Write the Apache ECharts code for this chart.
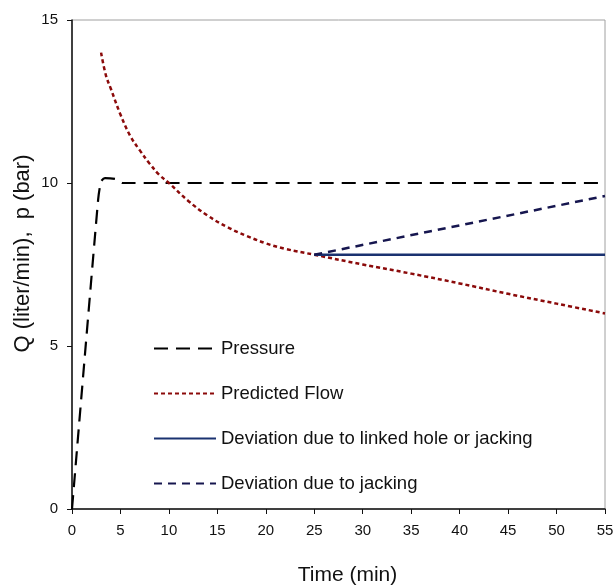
<!DOCTYPE html>
<html>
<head>
<meta charset="utf-8">
<script src="https://cdn.jsdelivr.net/npm/echarts@6/dist/echarts.min.js"></script>
<style>
html,body{margin:0;padding:0;background:#fff;}
#chart{width:614px;height:586px;}
</style>
</head>
<body>
<div id="chart"></div>
<script>
// Data
var pressureTime = [0, 2.7, 3.0, 3.4, 4.5, 5.2, 55];
var pressureValue = [0, 9.5, 10.05, 10.15, 10.12, 10.0, 10.0];

var flowTime = [3, 3.5, 4, 5, 6, 7, 8, 9, 10, 12, 14, 16, 18, 20, 22, 25, 30, 35, 40, 45, 50, 55];
var flowValue = [14.0, 13.3, 12.9, 12.1, 11.45, 11.0, 10.6, 10.25, 10.0, 9.45, 9.0, 8.65, 8.38, 8.15, 7.98, 7.8, 7.5, 7.22, 6.92, 6.6, 6.3, 6.0];

var linkedTime = [25, 55];
var linkedValue = [7.8, 7.8];

var jackingTime = [25, 55];
var jackingValue = [7.8, 9.6];

var seriesNames = ['Pressure', 'Predicted Flow', 'Deviation due to linked hole or jacking', 'Deviation due to jacking'];
var xTitle = 'Time (min)';
var yTitle = 'Q (liter/min),  p (bar)';

function pairs(xs, ys) { return xs.map(function (x, i) { return [x, ys[i]]; }); }

var font = 'Liberation Sans, Arial, sans-serif';
var chart = echarts.init(document.getElementById('chart'), null, { renderer: 'canvas' });
chart.setOption({
  animation: false,
  backgroundColor: '#fff',
  grid: { left: 72, right: 9, top: 20, bottom: 77, show: true, borderColor: '#a0a0a0', borderWidth: 1,
          outerBoundsMode: 'none', containLabel: false },
  legend: {
    orient: 'vertical',
    left: 153, top: 339, padding: 0,
    itemWidth: 62, itemHeight: 14, itemGap: 26,
    itemStyle: { opacity: 0 },
    textStyle: { fontFamily: font, fontSize: 18.5, color: '#111' },
    data: seriesNames
  },
  xAxis: {
    type: 'value', min: 0, max: 55, interval: 5,
    name: xTitle, nameLocation: 'middle', nameGap: 56,
    nameTextStyle: { fontFamily: font, fontSize: 21, color: '#111', padding: [0, 0, 0, 18] },
    axisLine: { show: true, lineStyle: { color: '#111', width: 1.5 } },
    axisTick: { show: true, inside: false, length: 5, lineStyle: { color: '#111' } },
    axisLabel: { fontFamily: font, fontSize: 15, color: '#111', margin: 14 },
    splitLine: { show: false }
  },
  yAxis: {
    type: 'value', min: 0, max: 15, interval: 5,
    name: yTitle, nameLocation: 'middle', nameGap: 38, nameMoveOverlap: false,
    nameTextStyle: { fontFamily: font, fontSize: 22, color: '#111', padding: [0, 0, 0, 22] },
    axisLine: { show: true, lineStyle: { color: '#111', width: 1.5 } },
    axisTick: { show: true, inside: false, length: 5, lineStyle: { color: '#111' } },
    axisLabel: { fontFamily: font, fontSize: 15, color: '#111', margin: 14 },
    splitLine: { show: false }
  },
  series: [
    {
      name: seriesNames[0], type: 'line', data: pairs(pressureTime, pressureValue),
      symbol: 'none', smooth: 0.2, z: 3,
      lineStyle: { color: '#000', width: 2.2, type: [14, 8] },
      itemStyle: { color: '#000' }
    },
    {
      name: seriesNames[1], type: 'line', data: pairs(flowTime, flowValue),
      symbol: 'none', smooth: 0.4,
      lineStyle: { color: '#8b0a0a', width: 2.5, type: [4, 3] },
      itemStyle: { color: '#8b0a0a' }
    },
    {
      name: seriesNames[2], type: 'line', data: pairs(linkedTime, linkedValue),
      symbol: 'none',
      lineStyle: { color: '#1a3270', width: 2.5, type: 'solid' },
      itemStyle: { color: '#1a3270' }
    },
    {
      name: seriesNames[3], type: 'line', data: pairs(jackingTime, jackingValue),
      symbol: 'none',
      lineStyle: { color: '#16164f', width: 2.5, type: [8, 6] },
      itemStyle: { color: '#16164f' }
    }
  ]
});
</script>
</body>
</html>
